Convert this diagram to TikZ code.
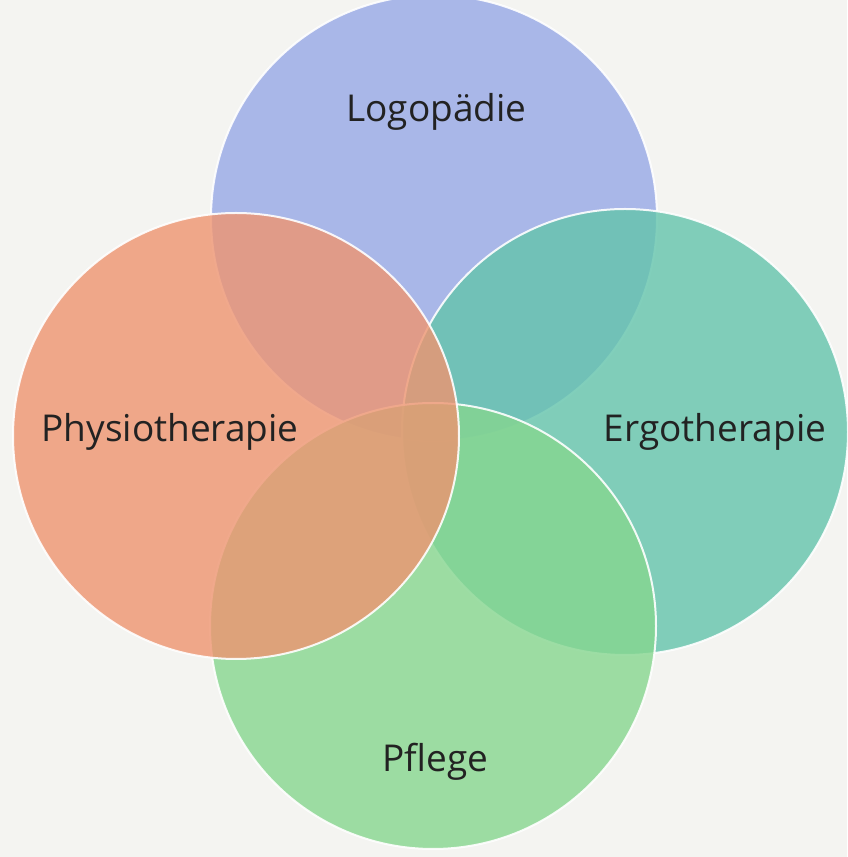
\documentclass[tikz,border=0pt]{standalone}
\usepackage{fontspec}
\setmainfont{Open Sans}
\definecolor{bg}{HTML}{F4F4F1}
\definecolor{cblue}{HTML}{97A8E6}
\definecolor{corange}{HTML}{EE9470}
\definecolor{cteal}{HTML}{63C4AB}
\definecolor{cgreen}{HTML}{86D68F}
\definecolor{txt}{HTML}{222222}
\begin{document}
\begin{tikzpicture}[x=1pt,y=1pt,
  ring/.style={circle, minimum size=446pt, inner sep=0pt, draw=white, line width=2pt, fill opacity=0.8, draw opacity=0.9},
  lbl/.style={font=\fontsize{37}{44}\selectfont, text=txt, inner sep=0pt, anchor=base}]
\fill[bg] (0,0) rectangle (847,857);
\useasboundingbox (0,0) rectangle (847,857);
\node[ring, fill=cblue] (logo) at (434,639) {};
\node[ring, fill=cteal] (ergo) at (625,425) {};
\node[ring, fill=cgreen] (pfl) at (433,231) {};
\node[ring, fill=corange] (phys) at (236,421) {};
\node[lbl] (tlogo) at (436.5,735) {Logopädie};
\node[lbl] (tphys) at (170,415) {Physiotherapie};
\node[lbl] (tergo) at (715,415) {Ergotherapie};
\node[lbl] (tpfl) at (435.5,85) {Pflege};
\end{tikzpicture}
\end{document}
